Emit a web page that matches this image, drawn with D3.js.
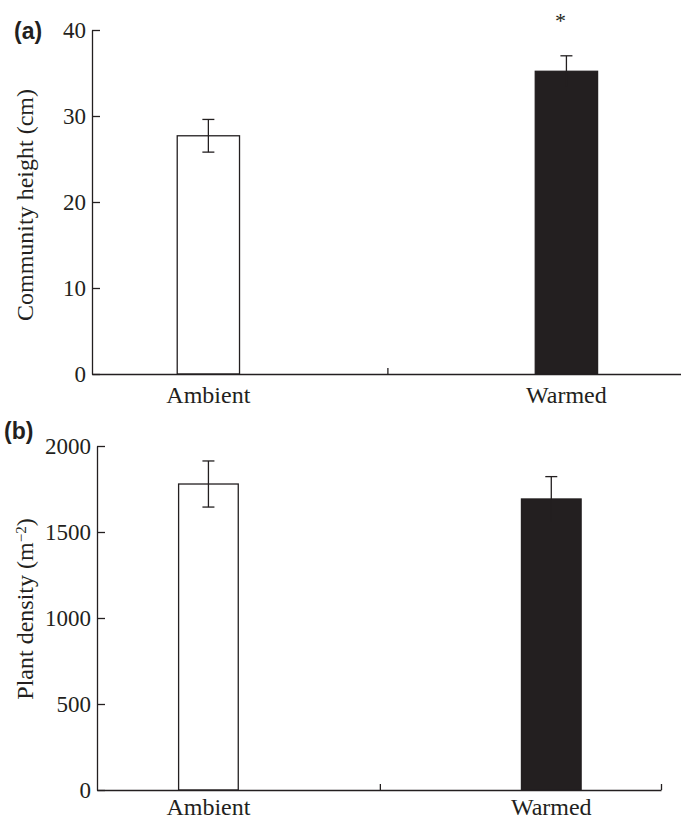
<!DOCTYPE html>
<html>
<head>
<meta charset="utf-8">
<script src="https://cdn.jsdelivr.net/npm/d3@7"></script>
<style>
body { margin: 0; background: #fff; }
text { font-family: "Liberation Serif", "Times New Roman", serif; fill: #231f20; }
.axis path, .axis line { stroke: #231f20; stroke-width: 1.3px; }
.axis text { font-size: 23px; }
.panel { font-family: "Liberation Sans", Arial, sans-serif; font-weight: bold; font-size: 23px; }
</style>
</head>
<body>
<script>
var categories = ["Ambient", "Warmed"];
var heightMean = [27.7, 35.2];
var heightSE = [1.9, 1.8];
var densityMean = [1779, 1692];
var densitySE = [134, 130];
var heightTicks = [0, 10, 20, 30, 40];
var densityTicks = [0, 500, 1000, 1500, 2000];
var barFill = ["#ffffff", "#231f20"];

var ink = "#231f20";

var svg = d3.select("body").append("svg")
    .attr("width", 681)
    .attr("height", 821);

function panel(opt) {
  var x = d3.scaleLinear().domain([-0.325, 1.32]).range([opt.left, opt.right]);
  var y = d3.scaleLinear().domain(opt.domain).range([opt.bottom, opt.top]);
  var bw = x(0.087) - x(-0.087);
  var g = svg.append("g");

  // bars
  g.selectAll(".bar")
      .data(opt.mean)
    .enter().append("rect")
      .attr("class", "bar")
      .attr("x", function(d, i) { return x(i) - bw / 2; })
      .attr("y", function(d) { return y(d); })
      .attr("width", bw)
      .attr("height", function(d) { return y(0) - y(d); })
      .attr("fill", function(d, i) { return barFill[i]; })
      .attr("stroke", ink)
      .attr("stroke-width", 1.3);

  // error bars
  var eb = g.selectAll(".err")
      .data(opt.mean)
    .enter().append("g")
      .attr("class", "err")
      .attr("stroke", ink)
      .attr("stroke-width", 1.3);
  eb.append("line")
      .attr("x1", function(d, i) { return x(i); })
      .attr("x2", function(d, i) { return x(i); })
      .attr("y1", function(d, i) { return y(d - opt.se[i]); })
      .attr("y2", function(d, i) { return y(d + opt.se[i]); });
  eb.append("line")
      .attr("x1", function(d, i) { return x(i) - 6; })
      .attr("x2", function(d, i) { return x(i) + 6; })
      .attr("y1", function(d, i) { return y(d + opt.se[i]); })
      .attr("y2", function(d, i) { return y(d + opt.se[i]); });
  eb.filter(function(d, i) { return i == 0; }).append("line")
      .attr("x1", function(d, i) { return x(i) - 6; })
      .attr("x2", function(d, i) { return x(i) + 6; })
      .attr("y1", function(d, i) { return y(d - opt.se[i]); })
      .attr("y2", function(d, i) { return y(d - opt.se[i]); });

  // axes
  g.append("g")
      .attr("class", "axis")
      .attr("transform", "translate(0," + opt.bottom + ")")
      .call(d3.axisBottom(x).tickValues(opt.xticks).tickSize(-6).tickSizeOuter(0).tickFormat(""));

  g.append("g")
      .attr("class", "axis")
      .attr("transform", "translate(" + opt.left + ",0)")
      .call(d3.axisLeft(y).tickValues(opt.yticks).tickSize(-8).tickSizeOuter(0).tickPadding(6).tickFormat(d3.format("d")));

  g.selectAll(".axis .domain").attr("stroke", ink);
  g.selectAll(".axis .tick line").attr("stroke", ink);

  // category labels
  g.selectAll(".cat")
      .data(categories)
    .enter().append("text")
      .attr("class", "cat")
      .attr("x", function(d, i) { return x(i); })
      .attr("y", opt.bottom + opt.labelGap)
      .style("text-anchor", "middle")
      .style("font-size", "24px")
      .text(function(d) { return d; });

  return {x: x, y: y, g: g};
}

var a = panel({
  left: 92, right: 681, top: 30, bottom: 374,
  domain: [0, 40], yticks: heightTicks, xticks: [0.5],
  mean: heightMean, se: heightSE, labelGap: 29
});

var b = panel({
  left: 97, right: 661, top: 446, bottom: 790,
  domain: [0, 2000], yticks: densityTicks, xticks: [0.5, 1.32],
  mean: densityMean, se: densitySE, labelGap: 25
});

// significance mark
a.g.append("text")
    .attr("x", a.x(1) - 6)
    .attr("y", 28)
    .style("text-anchor", "middle")
    .style("font-size", "22px")
    .text("*");

// y labels
svg.append("text")
    .attr("transform", "translate(33,205) rotate(-90)")
    .style("text-anchor", "middle")
    .style("font-size", "24px")
    .text("Community height (cm)");

var lb = svg.append("text")
    .attr("transform", "translate(33,609) rotate(-90)")
    .style("text-anchor", "middle")
    .style("font-size", "24px");
lb.append("tspan").text("Plant density (m");
lb.append("tspan").attr("dy", "-0.45em").style("font-size", "15px").text("\u22122");
lb.append("tspan").attr("dy", "0.3em").text(")");

// panel letters
svg.append("text").attr("class", "panel").attr("x", 14).attr("y", 39).text("(a)");
svg.append("text").attr("class", "panel").attr("x", 4).attr("y", 439).text("(b)");
</script>
</body>
</html>
